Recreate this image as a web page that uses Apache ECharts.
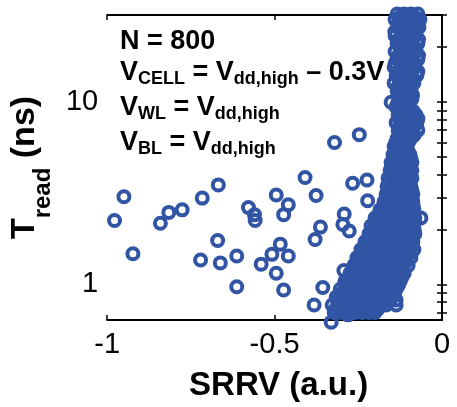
<!DOCTYPE html>
<html>
<head>
    <meta charset="utf-8" />
    <title>Tread vs SRRV</title>
    <style>
        html, body { margin: 0; padding: 0; background: #fff; }
        #chart { width: 457px; height: 407px; }
    </style>
</head>
<body>
    <div id="chart"></div>
    <script src="https://cdn.jsdelivr.net/npm/echarts@6/dist/echarts.min.js"></script>
    <script>
        // isolated rings, [SRRV, Tread (ns)]
        var outliers = [
            [-0.978, 2.24], [-0.950, 3.02], [-0.923, 1.47], [-0.841, 2.16], [-0.816, 2.48],
            [-0.776, 2.56], [-0.716, 2.97], [-0.668, 3.51], [-0.670, 1.74], [-0.721, 1.36],
            [-0.662, 1.31], [-0.613, 1.43], [-0.613, 0.97], [-0.578, 2.64], [-0.560, 2.41],
            [-0.558, 2.24], [-0.540, 1.29], [-0.508, 1.46], [-0.495, 3.09], [-0.483, 1.66],
            [-0.495, 1.15], [-0.473, 0.93], [-0.459, 2.73], [-0.473, 2.41], [-0.459, 1.43],
            [-0.409, 3.85], [-0.376, 3.07], [-0.321, 5.99], [-0.247, 6.62], [-0.363, 2.06],
            [-0.379, 1.76], [-0.292, 2.43], [-0.296, 2.13], [-0.267, 3.58], [-0.224, 3.73],
            [-0.222, 2.87], [-0.277, 1.96], [-0.152, 9.96],
            [-0.356, 0.96], [-0.382, 0.77], [-0.331, 0.62], [-0.293, 1.19], [-0.203, 0.73],
            [-0.137, 0.82], [-0.281, 0.68]
        ];

        // dense cluster, read row by row: [Tread, [SRRV values on that row]]
        var clusterRows = [
            [30.4, [-0.134, -0.113, -0.093, -0.072]],
            [29.3, [-0.124, -0.103, -0.083]],
            [28.3, [-0.140, -0.119, -0.099, -0.078, -0.066]],
            [26.9, [-0.130, -0.109, -0.088, -0.071]],
            [25.6, [-0.131, -0.110, -0.090, -0.069]],
            [24.3, [-0.141, -0.121, -0.100, -0.079]],
            [23.1, [-0.140, -0.119, -0.099, -0.078]],
            [22.0, [-0.130, -0.109, -0.088, -0.070]],
            [20.9, [-0.134, -0.113, -0.093, -0.072]],
            [19.9, [-0.124, -0.103, -0.083]],
            [18.9, [-0.140, -0.119, -0.099, -0.078]],
            [18.0, [-0.130, -0.109, -0.088, -0.070]],
            [17.1, [-0.134, -0.113, -0.093, -0.072]],
            [16.3, [-0.140, -0.124, -0.103, -0.083]],
            [15.5, [-0.143, -0.122, -0.101, -0.081]],
            [14.7, [-0.132, -0.111, -0.090, -0.072]],
            [14.0, [-0.137, -0.116, -0.096, -0.075]],
            [13.3, [-0.127, -0.106, -0.086]],
            [12.7, [-0.143, -0.122, -0.101, -0.084]],
            [12.1, [-0.132, -0.111, -0.092]],
            [11.5, [-0.134, -0.113, -0.093]],
            [10.9, [-0.124, -0.103, -0.088]],
            [10.4, [-0.128, -0.107, -0.090]],
            [9.9, [-0.132, -0.114, -0.098]],
            [9.4, [-0.137, -0.116, -0.096]],
            [8.9, [-0.126, -0.105, -0.086]],
            [8.5, [-0.131, -0.110, -0.090, -0.078]],
            [8.1, [-0.127, -0.106, -0.086, -0.072]],
            [7.7, [-0.137, -0.116, -0.096, -0.075]],
            [7.3, [-0.126, -0.105, -0.085]],
            [7.0, [-0.131, -0.110, -0.090, -0.072]],
            [6.6, [-0.124, -0.103, -0.083]],
            [6.3, [-0.134, -0.113, -0.093]],
            [6.0, [-0.138, -0.118, -0.100]],
            [5.7, [-0.143, -0.122, -0.107]],
            [5.4, [-0.136, -0.118, -0.102]],
            [5.15, [-0.146, -0.128, -0.110, -0.096]],
            [4.9, [-0.143, -0.125, -0.107, -0.093]],
            [4.66, [-0.152, -0.134, -0.116, -0.099, -0.090]],
            [4.43, [-0.146, -0.128, -0.110, -0.094]],
            [4.22, [-0.155, -0.137, -0.119, -0.101, -0.090]],
            [4.01, [-0.149, -0.131, -0.113, -0.096]],
            [3.82, [-0.161, -0.143, -0.125, -0.107, -0.090]],
            [3.63, [-0.155, -0.137, -0.119, -0.101]],
            [3.45, [-0.164, -0.146, -0.128, -0.110, -0.093]],
            [3.28, [-0.158, -0.140, -0.122, -0.104, -0.090]],
            [3.12, [-0.167, -0.149, -0.131, -0.113, -0.096, -0.087]],
            [2.97, [-0.161, -0.143, -0.125, -0.107, -0.092]],
            [2.83, [-0.173, -0.155, -0.137, -0.119, -0.101, -0.087]],
            [2.69, [-0.170, -0.152, -0.134, -0.116, -0.098, -0.086]],
            [2.56, [-0.185, -0.167, -0.149, -0.131, -0.113, -0.096, -0.084]],
            [2.43, [-0.188, -0.170, -0.152, -0.134, -0.116, -0.098, -0.086]],
            [2.31, [-0.200, -0.182, -0.164, -0.146, -0.128, -0.110, -0.093, -0.081, -0.063]],
            [2.20, [-0.200, -0.182, -0.164, -0.146, -0.128, -0.110, -0.092, -0.082]],
            [2.09, [-0.212, -0.194, -0.176, -0.158, -0.140, -0.122, -0.104, -0.087]],
            [1.99, [-0.206, -0.188, -0.170, -0.152, -0.134, -0.116, -0.098, -0.083]],
            [1.89, [-0.218, -0.200, -0.182, -0.164, -0.146, -0.128, -0.110, -0.093, -0.081]],
            [1.80, [-0.218, -0.200, -0.182, -0.164, -0.146, -0.128, -0.110, -0.092]],
            [1.71, [-0.230, -0.212, -0.194, -0.176, -0.158, -0.140, -0.122, -0.104, -0.087]],
            [1.63, [-0.230, -0.212, -0.194, -0.176, -0.158, -0.140, -0.122, -0.104, -0.089]],
            [1.55, [-0.242, -0.224, -0.206, -0.188, -0.170, -0.152, -0.134, -0.116, -0.099, -0.084]],
            [1.47, [-0.242, -0.224, -0.206, -0.188, -0.170, -0.152, -0.134, -0.116, -0.098]],
            [1.40, [-0.254, -0.236, -0.218, -0.200, -0.182, -0.164, -0.146, -0.128, -0.110, -0.093]],
            [1.33, [-0.252, -0.234, -0.216, -0.198, -0.180, -0.162, -0.144, -0.126, -0.108]],
            [1.27, [-0.263, -0.245, -0.227, -0.209, -0.191, -0.173, -0.155, -0.137, -0.119, -0.101]],
            [1.21, [-0.264, -0.246, -0.228, -0.210, -0.192, -0.174, -0.156, -0.138, -0.120]],
            [1.15, [-0.275, -0.257, -0.239, -0.221, -0.203, -0.185, -0.167, -0.149, -0.131, -0.113]],
            [1.09, [-0.276, -0.258, -0.240, -0.222, -0.204, -0.186, -0.168, -0.150, -0.132, -0.120]],
            [1.04, [-0.290, -0.272, -0.254, -0.236, -0.218, -0.200, -0.182, -0.164, -0.146, -0.125]],
            [0.99, [-0.288, -0.270, -0.252, -0.234, -0.216, -0.198, -0.180, -0.162, -0.144, -0.130]],
            [0.94, [-0.304, -0.287, -0.269, -0.251, -0.233, -0.215, -0.197, -0.179, -0.161, -0.137]],
            [0.89, [-0.300, -0.282, -0.264, -0.246, -0.228, -0.210, -0.192, -0.174, -0.156, -0.142]],
            [0.85, [-0.316, -0.299, -0.281, -0.263, -0.245, -0.227, -0.209, -0.191, -0.173, -0.152]],
            [0.81, [-0.312, -0.294, -0.276, -0.258, -0.240, -0.222, -0.204, -0.186, -0.168, -0.155]],
            [0.77, [-0.328, -0.310, -0.293, -0.275, -0.257, -0.239, -0.221, -0.203, -0.185, -0.167, -0.137]],
            [0.73, [-0.318, -0.300, -0.282, -0.264, -0.246, -0.228, -0.210, -0.192]],
            [0.70, [-0.322, -0.301, -0.281, -0.260, -0.239, -0.218, -0.200]]
        ];

        var xTicks = [-1, -0.5, 0];
        var yLabels = [1, 10];
        var yTicks = [0.7, 0.8, 0.9, 1, 2, 3, 4, 5, 6, 7, 8, 9, 10, 20, 30];

        var points = outliers.slice();
        clusterRows.forEach(function (row) {
            row[1].forEach(function (x) { points.push([x, row[0]]); });
        });

        var font = "'Liberation Sans', Arial, sans-serif";
        var ringColor = '#3155a4';

        var chart = echarts.init(document.getElementById('chart'), null, { renderer: 'canvas' });

        var axisLine = { lineStyle: { color: '#000', width: 2 } };
        var tickStyle = { color: '#000', width: 1.5 };

        var option = {
            animation: false,
            backgroundColor: '#fff',
            grid: { left: 106, right: 15, top: 15, bottom: 84 },
            xAxis: [{
                type: 'value',
                min: xTicks[0],
                max: xTicks[xTicks.length - 1],
                interval: 0.5,
                name: 'SRRV (a.u.)',
                nameLocation: 'middle',
                nameGap: 49,
                nameTextStyle: { fontFamily: font, fontSize: 33, fontWeight: 'bold', color: '#000', padding: [0, 0, 0, 8] },
                axisLine: axisLine,
                axisTick: { inside: true, length: 5, lineStyle: tickStyle },
                axisLabel: { fontFamily: font, fontSize: 29, color: '#000', margin: 10 },
                splitLine: { show: false }
            }, {
                type: 'value',
                position: 'top',
                min: xTicks[0],
                max: xTicks[xTicks.length - 1],
                interval: 0.5,
                axisLine: axisLine,
                axisTick: { inside: true, length: 5, lineStyle: tickStyle },
                axisLabel: { show: false },
                splitLine: { show: false }
            }],
            yAxis: [{
                type: 'log',
                logBase: 10,
                min: 0.637,
                max: 30,
                name: '{m|T}{s|read}{m| (ns)}',
                nameLocation: 'middle',
                nameRotate: 90,
                nameGap: 48,
                nameTextStyle: {
                    color: '#000',
                    rich: {
                        m: { fontFamily: font, fontSize: 34, fontWeight: 'bold', color: '#000' },
                        s: { fontFamily: font, fontSize: 24, fontWeight: 'bold', color: '#000', padding: [36, 0, 0, 0] }
                    }
                },
                axisLine: axisLine,
                axisTick: { inside: true, length: 5, customValues: yTicks, lineStyle: tickStyle },
                axisLabel: { fontFamily: font, fontSize: 29, color: '#000', margin: 9, customValues: yLabels },
                splitLine: { show: false }
            }, {
                type: 'log',
                logBase: 10,
                position: 'right',
                min: 0.637,
                max: 30,
                axisLine: axisLine,
                axisTick: { inside: true, length: 5, customValues: yTicks, lineStyle: tickStyle },
                axisLabel: { show: false },
                splitLine: { show: false }
            }],
            graphic: [
                { type: 'text', x: 120, y: 42, style: { text: '{m|N = 800}', verticalAlign: 'middle', rich: {
                    m: { fontFamily: font, fontSize: 27, fontWeight: 'bold', fill: '#000' } } } },
                { type: 'text', x: 120, y: 73, style: { text: '{m|V}{s|CELL}{m| = V}{s|dd,high}{m| \u2013 0.3V}', verticalAlign: 'middle', rich: {
                    m: { fontFamily: font, fontSize: 27, fontWeight: 'bold', fill: '#000' },
                    s: { fontFamily: font, fontSize: 18, fontWeight: 'bold', fill: '#000', padding: [13, 0, 0, 0] } } } },
                { type: 'text', x: 120, y: 108, style: { text: '{m|V}{s|WL}{m| = V}{s|dd,high}', verticalAlign: 'middle', rich: {
                    m: { fontFamily: font, fontSize: 27, fontWeight: 'bold', fill: '#000' },
                    s: { fontFamily: font, fontSize: 18, fontWeight: 'bold', fill: '#000', padding: [13, 0, 0, 0] } } } },
                { type: 'text', x: 120, y: 143, style: { text: '{m|V}{s|BL}{m| = V}{s|dd,high}', verticalAlign: 'middle', rich: {
                    m: { fontFamily: font, fontSize: 27, fontWeight: 'bold', fill: '#000' },
                    s: { fontFamily: font, fontSize: 18, fontWeight: 'bold', fill: '#000', padding: [13, 0, 0, 0] } } } }
            ],
            series: [{
                type: 'scatter',
                xAxisIndex: 0,
                yAxisIndex: 0,
                clip: false,
                symbol: 'circle',
                symbolSize: 11,
                itemStyle: { color: 'rgba(255,255,255,0)', borderColor: ringColor, borderWidth: 4, opacity: 1 },
                emphasis: { disabled: true },
                data: points
            }]
        };

        chart.setOption(option);
    </script>
</body>
</html>
